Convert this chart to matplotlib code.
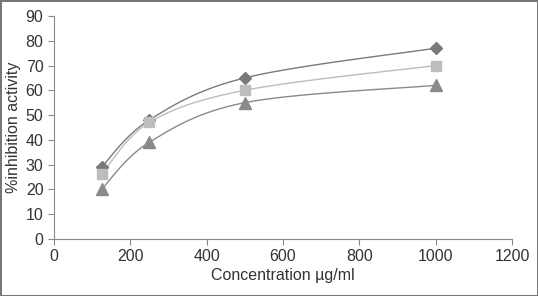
import numpy as np
import matplotlib
matplotlib.use("Agg")
import matplotlib.pyplot as plt

plt.rcParams['font.family'] = ['Liberation Sans', 'DejaVu Sans']

conc = [125, 250, 500, 1000]
series_a = [29, 48, 65, 77]   # diamonds
series_b = [26, 47, 60, 70]   # squares
series_c = [20, 39, 55, 62]   # triangles


def smooth(xs, ys, n=40, t=0.5):
    # Excel-like cardinal spline through the points
    xs = np.asarray(xs, float)
    ys = np.asarray(ys, float)
    px = np.concatenate([[xs[0]], xs, [xs[-1]]])
    py = np.concatenate([[ys[0]], ys, [ys[-1]]])
    outx, outy = [], []
    for i in range(1, len(px) - 2):
        p0 = np.array([px[i], py[i]])
        p1 = np.array([px[i + 1], py[i + 1]])
        m0 = t * (np.array([px[i + 1], py[i + 1]]) - np.array([px[i - 1], py[i - 1]]))
        m1 = t * (np.array([px[i + 2], py[i + 2]]) - np.array([px[i], py[i]]))
        s = np.linspace(0, 1, n)[:, None]
        h00 = 2 * s**3 - 3 * s**2 + 1
        h10 = s**3 - 2 * s**2 + s
        h01 = -2 * s**3 + 3 * s**2
        h11 = s**3 - s**2
        pts = h00 * p0 + h10 * m0 + h01 * p1 + h11 * m1
        outx.extend(pts[:, 0])
        outy.extend(pts[:, 1])
    return outx, outy


fig = plt.figure(figsize=(5.38, 2.96), dpi=100)
fig.patch.set_edgecolor('#777777')
fig.patch.set_linewidth(2)
ax = fig.add_axes([0.100, 0.193, 0.852, 0.753])

styles = [
    (series_a, 'D', '#7a7a7a', '#7a7a7a', 6),
    (series_b, 's', '#bdbdbd', '#bdbdbd', 7),
    (series_c, '^', '#8a8a8a', '#8a8a8a', 8),
]
for ys, mk, lc, mc, ms in styles:
    sx, sy = smooth(conc, ys)
    ax.plot(sx, sy, color=lc, lw=1.0, zorder=2)
    ax.plot(conc, ys, linestyle='none', marker=mk, color=mc, markersize=ms, zorder=3)

ax.set_xlim(0, 1200)
ax.set_ylim(0, 90)
ax.set_xticks(range(0, 1201, 200))
ax.set_yticks(range(0, 91, 10))
for s in ['top', 'right']:
    ax.spines[s].set_visible(False)
for s in ['left', 'bottom']:
    ax.spines[s].set_color('#888888')
ax.tick_params(direction='out', length=4, color='#888888', labelsize=11.5, labelcolor='#333333')
ax.set_xlabel('Concentration µg/ml', fontsize=11.5, color='#333333', labelpad=3)
ax.set_ylabel('%inhibition activity', fontsize=11.5, color='#333333', labelpad=3)

fig.savefig('out.png', dpi=100, edgecolor=fig.get_edgecolor())
